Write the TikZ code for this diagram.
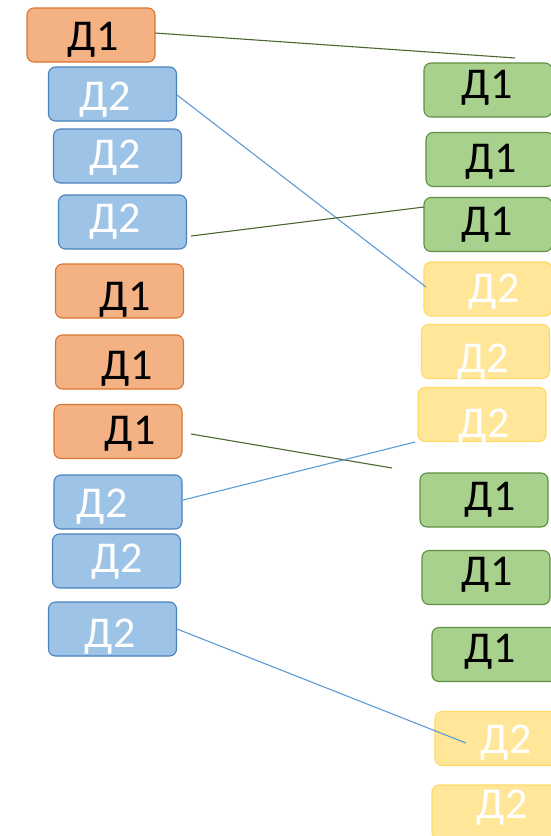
\documentclass[tikz,border=0pt]{standalone}
\usepackage{fontspec}
\setmainfont{Carlito}
\definecolor{ofill}{HTML}{F4B183}
\definecolor{oline}{HTML}{D9752F}
\definecolor{bfill}{HTML}{9DC3E6}
\definecolor{bline}{HTML}{4A82BE}
\definecolor{gfill}{HTML}{A9D18E}
\definecolor{gline}{HTML}{5F8F3F}
\definecolor{yfill}{HTML}{FFE699}
\definecolor{yline}{HTML}{FFD966}
\definecolor{gconn}{HTML}{4E6630}
\definecolor{bconn}{HTML}{5B9BD5}
\tikzset{
  box/.style={rectangle, rounded corners=7pt, line width=1.1pt, minimum width=128pt, minimum height=54pt, inner sep=0pt},
  obox/.style={box, fill=ofill, draw=oline},
  bbox/.style={box, fill=bfill, draw=bline},
  gbox/.style={box, fill=gfill, draw=gline},
  ybox/.style={box, fill=yfill, draw=yline},
  dtext/.style={anchor=base, inner sep=0pt, font=\fontsize{44}{44}\selectfont, text=black},
  wtext/.style={anchor=base, inner sep=0pt, font=\fontsize{44}{44}\selectfont, text=white},
  gconnector/.style={draw=gconn, line width=1.1pt},
  bconnector/.style={draw=bconn, line width=1.1pt},
}
\begin{document}
\begin{tikzpicture}[x=1pt,y=-1pt]
\useasboundingbox (0,0) rectangle (551,836);
\clip (0,0) rectangle (551,836);
% left column
\node[obox] (l1) at (91,35) {};
\node[dtext] (l1t) at (93,50) {Д1};
\node[bbox] (l2) at (112.5,94) {};
\node[wtext] (l2t) at (105,110) {Д2};
\node[bbox] (l3) at (117.5,156) {};
\node[wtext] (l3t) at (115,168) {Д2};
\node[bbox] (l4) at (122.5,222) {};
\node[wtext] (l4t) at (115,232) {Д2};
\node[obox] (l5) at (119.5,291) {};
\node[dtext] (l5t) at (125,310) {Д1};
\node[obox] (l6) at (119.5,362) {};
\node[dtext] (l6t) at (127,379) {Д1};
\node[obox] (l7) at (118,431.5) {};
\node[dtext] (l7t) at (130,444) {Д1};
\node[bbox] (l8) at (118,502) {};
\node[wtext] (l8t) at (102,517) {Д2};
\node[bbox] (l9) at (116.5,561) {};
\node[wtext] (l9t) at (117,572) {Д2};
\node[bbox] (l10) at (112.5,629) {};
\node[wtext] (l10t) at (110,647) {Д2};
% right column
\node[gbox] (r1) at (488,90) {};
\node[dtext] (r1t) at (487,98) {Д1};
\node[gbox] (r2) at (490,159.5) {};
\node[dtext] (r2t) at (491,172) {Д1};
\node[gbox] (r3) at (488,224.5) {};
\node[dtext] (r3t) at (487,235) {Д1};
\node[ybox] (r4) at (488,289) {};
\node[wtext] (r4t) at (494,302) {Д2};
\node[ybox] (r5) at (485.5,351.5) {};
\node[wtext] (r5t) at (483,372) {Д2};
\node[ybox] (r6) at (482,414.5) {};
\node[wtext] (r6t) at (484,437) {Д2};
\node[gbox] (r7) at (484,500) {};
\node[dtext] (r7t) at (490,510) {Д1};
\node[gbox] (r8) at (486,577.5) {};
\node[dtext] (r8t) at (487,585) {Д1};
\node[gbox] (r9) at (496,654.5) {};
\node[dtext] (r9t) at (490,662) {Д1};
\node[ybox] (r10) at (499,738.5) {};
\node[wtext] (r10t) at (506,753) {Д2};
\node[ybox] (r11) at (496,812) {};
\node[wtext] (r11t) at (502,818) {Д2};
% free ends
\coordinate (c1) at (515,58);
\coordinate (c3a) at (191,236);
\coordinate (c3b) at (424,207);
\coordinate (c4a) at (191,434);
\coordinate (c4b) at (392,468);
\coordinate (c5a) at (183,500);
\coordinate (c5b) at (415,442);
\coordinate (c6a) at (177,629);
\coordinate (c6b) at (466,743);
\coordinate (c2a) at (177,95);
\coordinate (c2b) at (426,287);
\coordinate (c1a) at (155,33);
% connectors
\draw[gconnector] (c1a) -- (c1);
\draw[bconnector] (c2a) -- (c2b);
\draw[gconnector] (c3a) -- (c3b);
\draw[gconnector] (c4a) -- (c4b);
\draw[bconnector] (c5a) -- (c5b);
\draw[bconnector] (c6a) -- (c6b);
\end{tikzpicture}
\end{document}
